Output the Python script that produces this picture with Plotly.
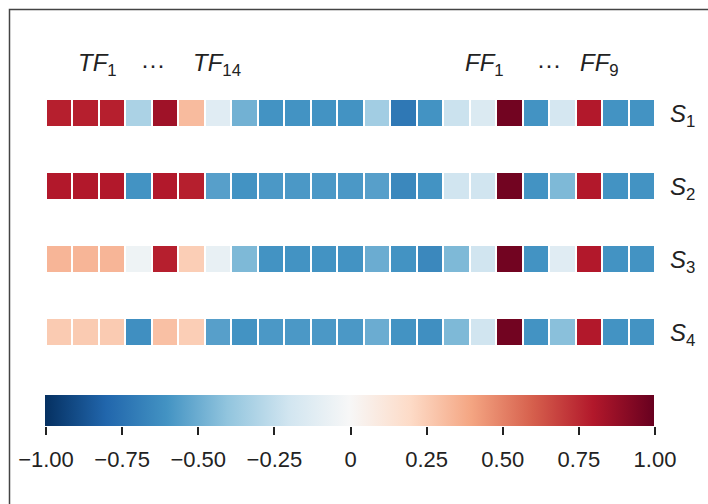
import plotly.graph_objects as go

columns = [f"TF{i}" for i in range(1, 15)] + [f"FF{i}" for i in range(1, 10)]
rows = ["S1", "S2", "S3", "S4"]
row_labels = ["<i>S</i><sub>1</sub>", "<i>S</i><sub>2</sub>", "<i>S</i><sub>3</sub>", "<i>S</i><sub>4</sub>"]

S1 = [0.78, 0.78, 0.78, -0.32, 0.85, 0.32, -0.12, -0.48, -0.6, -0.6, -0.6, -0.6, -0.35, -0.72,
      -0.6, -0.22, -0.15, 0.97, -0.6, -0.18, 0.8, -0.6, -0.6]
S2 = [0.8, 0.8, 0.8, -0.6, 0.8, 0.78, -0.55, -0.6, -0.58, -0.58, -0.58, -0.58, -0.55, -0.65,
      -0.6, -0.2, -0.2, 0.97, -0.6, -0.45, 0.8, -0.6, -0.6]
S3 = [0.34, 0.34, 0.34, -0.05, 0.78, 0.25, -0.08, -0.45, -0.6, -0.6, -0.6, -0.6, -0.5, -0.6,
      -0.65, -0.45, -0.2, 0.97, -0.6, -0.12, 0.8, -0.6, -0.6]
S4 = [0.26, 0.26, 0.26, -0.62, 0.3, 0.25, -0.55, -0.6, -0.58, -0.58, -0.58, -0.58, -0.5, -0.6,
      -0.62, -0.45, -0.2, 0.97, -0.6, -0.42, 0.8, -0.6, -0.6]

tick_vals = [-1.0, -0.75, -0.5, -0.25, 0, 0.25, 0.5, 0.75, 1.0]
tick_text = ["\u22121.00", "\u22120.75", "\u22120.50", "\u22120.25", "0", "0.25", "0.50", "0.75", "1.00"]

colorscale = [[0.0, 'rgb(5,48,97)'], [0.1, 'rgb(33,102,172)'], [0.2, 'rgb(67,147,195)'],
              [0.3, 'rgb(146,197,222)'], [0.4, 'rgb(209,229,240)'], [0.5, 'rgb(247,247,247)'],
              [0.6, 'rgb(253,219,199)'], [0.7, 'rgb(244,165,130)'], [0.8, 'rgb(214,96,77)'],
              [0.9, 'rgb(178,24,43)'], [1.0, 'rgb(103,0,31)']]

FONT = "Liberation Sans, Arial, sans-serif"
W, H = 708, 504
L, R = 46, 53
PW = W - L - R


def py(p):
    """pixel row -> paper y (no top/bottom margin)"""
    return (H - p) / H


def px(p):
    """pixel column -> paper x"""
    return (p - L) / PW


fig = go.Figure()
fig.add_trace(go.Heatmap(
    z=[S1, S2, S3, S4], x=columns, y=rows,
    colorscale=colorscale, zmin=-1, zmax=1,
    xgap=2, ygap=47,
    colorbar=dict(
        orientation='h', lenmode='pixels', len=609, thickness=31,
        xref='container', x=52 / W, xanchor='left',
        yref='container', y=py(395), yanchor='top',
        xpad=0, ypad=0, outlinewidth=0,
        showticklabels=False, ticks='',
    ),
))
# axis carrying the colour bar's ticks and labels
fig.add_trace(go.Scatter(x=[None], y=[None], xaxis='x2', yaxis='y2', showlegend=False,
                         hoverinfo='skip', mode='markers'))

fig.update_layout(
    xaxis=dict(domain=[0, 1], anchor='y', showticklabels=False, showgrid=False,
               zeroline=False, ticks=''),
    yaxis=dict(domain=[py(369), py(77)], anchor='x', autorange='reversed', side='right',
               tickmode='array', tickvals=rows, ticktext=row_labels, showgrid=False,
               zeroline=False, ticks='', ticklabelstandoff=14,
               tickfont=dict(family=FONT, size=24, color='#222')),
    xaxis2=dict(domain=[0, 1], anchor='y2', range=[-1.0, 1.0], tickmode='array',
                tickvals=tick_vals, ticktext=tick_text, ticks='outside', ticklen=8,
                tickwidth=1.5, tickcolor='#222', showline=False, showgrid=False,
                zeroline=False, ticklabelstandoff=6, side='bottom',
                tickfont=dict(family=FONT, size=22, color='#222')),
    yaxis2=dict(domain=[py(426), py(395)], anchor='x2', range=[0, 1], visible=False),
)

annots = [(1.45, "<i>TF</i><sub>1</sub>"), (3.55, "···"), (5.95, "<i>TF</i><sub>14</sub>"),
          (16.05, "<i>FF</i><sub>1</sub>"), (18.5, "···"), (20.4, "<i>FF</i><sub>9</sub>")]
for xv, txt in annots:
    fig.add_annotation(x=xv, xref='x', y=py(64), yref='paper', text=txt, showarrow=False,
                       font=dict(family=FONT, size=24, color='#222'), yanchor='middle')

fig.add_shape(type='rect', xref='paper', yref='paper',
              x0=px(9.5), x1=px(W + 20), y0=py(H + 20), y1=py(9.5),
              line=dict(color='#444', width=1.5), layer='below')

fig.update_layout(width=W, height=H, margin=dict(l=L, r=R, t=0, b=0, autoexpand=False),
                  paper_bgcolor='white', plot_bgcolor='white', showlegend=False)

fig.write_html("out.html")
